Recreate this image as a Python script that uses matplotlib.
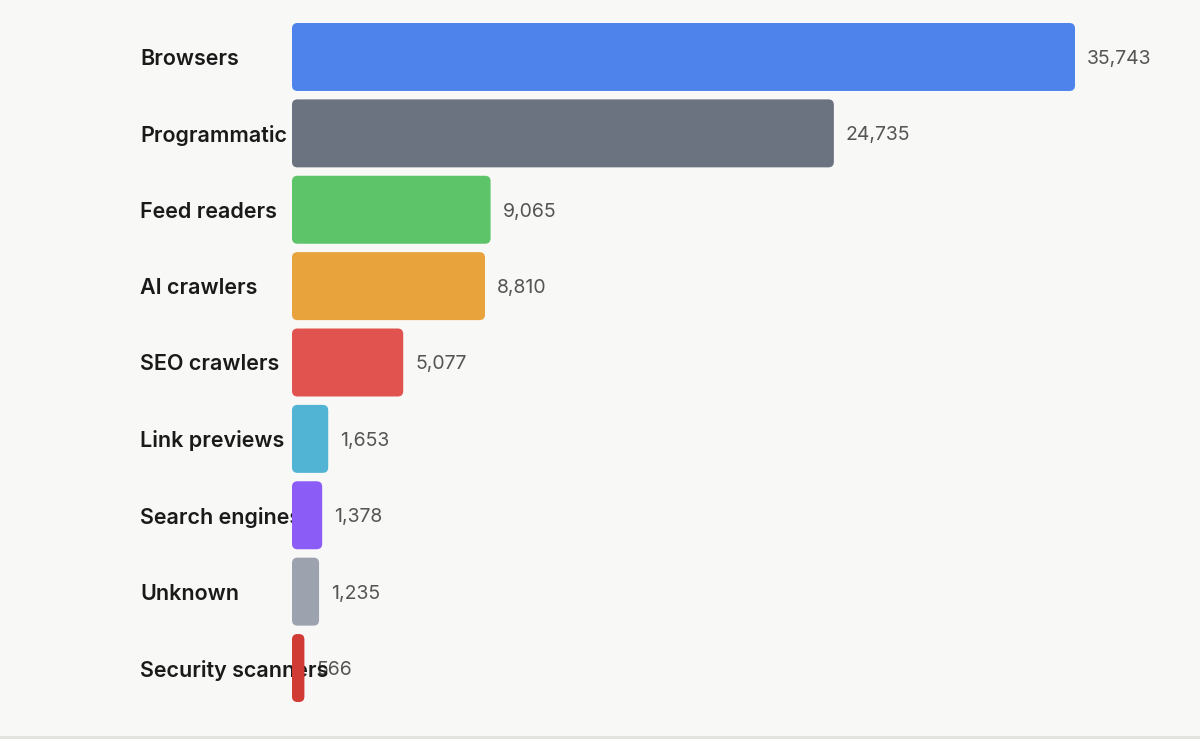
import matplotlib.pyplot as plt
from matplotlib.patches import FancyBboxPatch
import matplotlib.transforms as mtransforms

categories = ["Browsers", "Programmatic", "Feed readers", "AI crawlers", "SEO crawlers",
              "Link previews", "Search engines", "Unknown", "Security scanners"]
counts = [35743, 24735, 9065, 8810, 5077, 1653, 1378, 1235, 566]
colors = ["#4f83ec", "#6b7280", "#5ec46a", "#e8a33c", "#e0534e",
          "#52b4d4", "#8b5cf6", "#9ca3af", "#d13b36"]

bg = "#f8f8f6"
W, H = 1200, 739

fig = plt.figure(figsize=(12, 7.39), dpi=100, facecolor=bg)
# axes: bars from x=292 to 1075 px, rows from y=19 to 706 px
ax = fig.add_axes([292 / W, (H - 706.2) / H, 783 / W, 687.4 / H])
ax.set_facecolor(bg)
ax.set_xlim(0, max(counts))
ax.set_ylim(len(counts) - 0.5, -0.5)
ax.axis("off")

bar_h = 0.89
px_x = max(counts) / 783.0     # data units per pixel in x
px_y = 1 / 76.4                # data units per pixel in y
radius = 5.5
dy = 2 * px_y                  # text sits a touch below bar centre

label_tf = mtransforms.blended_transform_factory(fig.transFigure, ax.transData)
for i, (cat, val, col) in enumerate(zip(categories, counts, colors)):
    r = min(radius, val / px_x / 2)
    # bars sit on top of the labels (long labels get covered, like the original)
    patch = FancyBboxPatch((0, i - bar_h / 2), val, bar_h,
                           boxstyle=f"round,pad=0,rounding_size={r * px_x}",
                           mutation_aspect=px_y / px_x,
                           facecolor=col, edgecolor="none", clip_on=False, zorder=5)
    ax.add_patch(patch)
    ax.text(val + 12 * px_x, i + dy, f"{val:,}", va="center", ha="left",
            fontsize=14, color="#555555", family="Inter", clip_on=False, zorder=2)
    ax.text(140 / W, i + dy, cat, transform=label_tf, va="center", ha="left",
            fontsize=15.5, fontweight="semibold", color="#1a1a1a", family="Inter",
            zorder=3)

# thin gray strip along the bottom edge
fig.add_artist(plt.Rectangle((0, 0), 1, 3 / H, transform=fig.transFigure,
                             facecolor="#e4e4df", edgecolor="none"))

fig.savefig("out.png", dpi=100, facecolor=bg)
